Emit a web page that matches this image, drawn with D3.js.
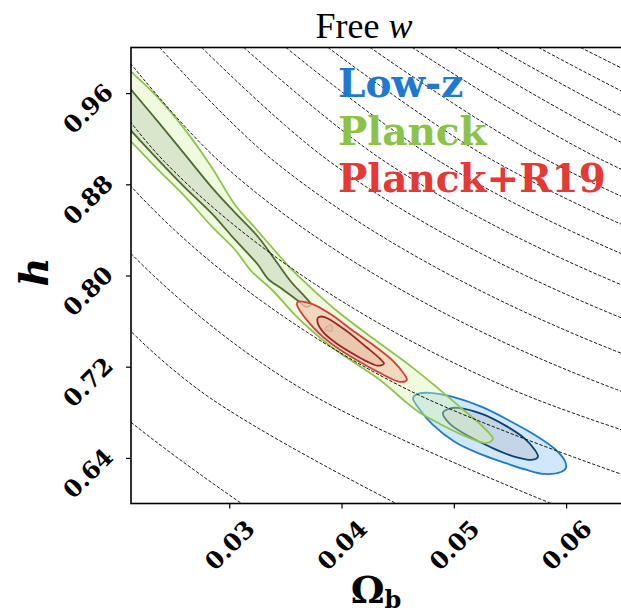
<!DOCTYPE html>
<html>
<head>
<meta charset="utf-8">
<script src="https://cdn.jsdelivr.net/npm/d3@7"></script>
<style>
  body { margin: 0; background: #fff; }
  .tick-label { font-family: 'DejaVu Serif', serif; font-weight: bold; font-size: 24px; }
</style>
</head>
<body>
<div id="chart"></div>
<script>
// ---- data ----
const xTicks = [0.03, 0.04, 0.05, 0.06];
const yTicks = [0.64, 0.72, 0.80, 0.88, 0.96];
const seriesNames = ['Low-z', 'Planck', 'Planck+R19'];

// dashed iso-curves: Omega_b read at these h levels
const isoH = [1.0, 0.9, 0.8, 0.7, 0.6];
const isoOmegaB = [
    [0.0013, 0.0046, 0.0100, 0.0179, 0.0311],
    [0.00505, 0.00951, 0.01662, 0.02724, 0.04488],
    [0.0088, 0.01441, 0.02325, 0.03655, 0.05868],
    [0.01255, 0.01932, 0.02987, 0.04586, 0.07247],
    [0.0163, 0.02422, 0.03649, 0.05518, 0.08627],
    [0.02005, 0.02913, 0.04312, 0.06449, 0.10006],
    [0.0238, 0.03403, 0.04974, 0.0738, 0.11386],
    [0.02755, 0.03894, 0.05637, 0.08311, 0.12766],
    [0.0313, 0.04385, 0.06299, 0.09242, 0.14145],
    [0.03505, 0.04875, 0.06962, 0.10173, 0.15525],
    [0.0388, 0.05366, 0.07624, 0.11104, 0.16905],
    [0.04255, 0.05856, 0.08287, 0.12036, 0.18284],
    [0.0463, 0.06347, 0.08949, 0.12967, 0.19664],
    [0.05005, 0.06838, 0.09611, 0.13898, 0.21043],
    [0.0538, 0.07328, 0.10274, 0.14829, 0.22423],
    [0.05755, 0.07819, 0.10936, 0.1576, 0.23803],
    [0.0613, 0.08309, 0.11599, 0.16691, 0.25183],
];

// contours as [Omega_b, h]
const planckOuter = [
    [0.02045, 0.9868], [0.02125, 0.9789], [0.02365, 0.9561], [0.02606, 0.9280], [0.02846, 0.8946],
    [0.03051, 0.8621], [0.03229, 0.8419], [0.03407, 0.8217], [0.03558, 0.8051], [0.03736, 0.7884],
    [0.03968, 0.7682], [0.04297, 0.7436], [0.04636, 0.7190], [0.04876, 0.6997], [0.05054, 0.6847],
    [0.05232, 0.6698], [0.05321, 0.6610], [0.05348, 0.6566], [0.05295, 0.6531], [0.05117, 0.6584],
    [0.04876, 0.6698], [0.04698, 0.6795], [0.04582, 0.6883], [0.04342, 0.7084], [0.04048, 0.7278],
    [0.03897, 0.7383], [0.03736, 0.7515], [0.03585, 0.7655], [0.03380, 0.7875], [0.03202, 0.8033],
    [0.03051, 0.8226], [0.02846, 0.8428], [0.02606, 0.8692], [0.02365, 0.8929], [0.02125, 0.9175],
    [0.02045, 0.9254],
];
const planckInner = [
    [0.02045, 0.9728], [0.02125, 0.9631], [0.02365, 0.9350], [0.02606, 0.9060], [0.02846, 0.8771],
    [0.03051, 0.8551], [0.03256, 0.8340], [0.03407, 0.8138], [0.03558, 0.7936], [0.03674, 0.7813],
    [0.03728, 0.7743], [0.03683, 0.7726], [0.03612, 0.7778], [0.03469, 0.7884], [0.03345, 0.7971],
    [0.03256, 0.8094], [0.03051, 0.8314], [0.02846, 0.8542], [0.02606, 0.8771], [0.02365, 0.9017],
    [0.02125, 0.9271], [0.02045, 0.9359],
];
const planckIsland = [[0.03852, 0.7533], [0.03906, 0.7568], [0.03915, 0.7515]];
const r19Outer = [
    [0.03612, 0.7769], [0.03736, 0.7751], [0.03923, 0.7647], [0.04102, 0.7515], [0.04280, 0.7392],
    [0.04458, 0.7251], [0.04556, 0.7137], [0.04582, 0.7084], [0.04520, 0.7067], [0.04342, 0.7146],
    [0.04164, 0.7242], [0.03986, 0.7348], [0.03834, 0.7462], [0.03719, 0.7576], [0.03630, 0.7690],
    [0.03603, 0.7743],
];
const r19Inner = [
    [0.03790, 0.7629], [0.03843, 0.7638], [0.04030, 0.7524], [0.04217, 0.7375], [0.04342, 0.7270],
    [0.04378, 0.7227], [0.04324, 0.7209], [0.04235, 0.7242], [0.04119, 0.7304], [0.03959, 0.7402],
    [0.03843, 0.7497], [0.03790, 0.7576],
];
const lowzOuter = [
    [0.04636, 0.6927], [0.04680, 0.6962], [0.04787, 0.6971], [0.04992, 0.6936], [0.05250, 0.6847],
    [0.05500, 0.6724], [0.05722, 0.6601], [0.05900, 0.6478], [0.05989, 0.6373], [0.05998, 0.6311],
    [0.05954, 0.6276], [0.05811, 0.6259], [0.05651, 0.6294], [0.05455, 0.6356], [0.05232, 0.6435],
    [0.05010, 0.6539], [0.04814, 0.6689], [0.04698, 0.6823],
];
const lowzInner = [
    [0.04903, 0.6795], [0.04956, 0.6831], [0.05037, 0.6839], [0.05250, 0.6786], [0.05464, 0.6681],
    [0.05624, 0.6576], [0.05722, 0.6470], [0.05749, 0.6410], [0.05704, 0.6384], [0.05544, 0.6410],
    [0.05339, 0.6489], [0.05126, 0.6594], [0.04965, 0.6698],
];

// ---- layout ----
const width = 621;
const height = 614;
const plot = { left: 131, right: 624.5, top: 47.5, bottom: 503.5 };

const svg = d3.select('#chart').append('svg').attr('width', width).attr('height', height);

const x = d3.scaleLinear().domain([0.02125, 0.0652]).range([plot.left, plot.right]);
const y = d3.scaleLinear().domain([0.6, 1.0]).range([plot.bottom, plot.top]);

svg.append('defs').append('clipPath').attr('id', 'clip')
    .append('rect')
    .attr('x', plot.left).attr('y', plot.top)
    .attr('width', plot.right - plot.left).attr('height', plot.bottom - plot.top);

const body = svg.append('g').attr('clip-path', 'url(#clip)');

const closed = d3.line().x((d) => x(d[0])).y((d) => y(d[1])).curve(d3.curveCatmullRomClosed);

function contour(pts, fill, opacity, stroke) {
    body.append('path')
        .attr('d', closed(pts))
        .attr('fill', fill)
        .attr('fill-opacity', opacity)
        .attr('stroke', stroke)
        .attr('stroke-width', 1.8)
        .attr('stroke-linejoin', 'round');
}

contour(lowzOuter, '#cfe8fb', 1, '#1f7bc6');
contour(lowzInner, '#c4d5e8', 1, '#123f6e');
contour(planckOuter, '#d9f2ad', 0.4, '#8fc350');
contour(planckInner, '#bccfb3', 0.45, '#4e6b30');
contour(planckIsland, '#bccfb3', 0.45, '#4e6b30');
contour(r19Outer, '#f3cdb3', 0.75, '#d43d3d');
contour(r19Inner, '#e2b5a0', 0.5, '#a02424');

const isoLine = d3.line().x((d) => x(d[0])).y((d) => y(d[1])).curve(d3.curveCatmullRom);
body.selectAll('.iso')
    .data(isoOmegaB)
    .enter()
    .append('path')
    .attr('class', 'iso')
    .attr('d', (row) => isoLine(row.map((v, i) => [v, isoH[i]])))
    .attr('fill', 'none')
    .attr('stroke', '#000')
    .attr('stroke-width', 0.9)
    .attr('stroke-dasharray', '3.4,1.7');

// ---- axes ----
const xAxis = d3.axisBottom(x).tickValues(xTicks).tickSize(5).tickFormat(d3.format('.2f'));
const gx = svg.append('g').attr('transform', `translate(0, ${plot.bottom})`).call(xAxis);
gx.select('.domain').remove();
gx.selectAll('line').attr('stroke-width', 1.2);
gx.selectAll('text')
    .attr('class', 'tick-label')
    .attr('fill', '#000')
    .attr('y', null).attr('dy', null)
    .attr('dominant-baseline', 'central')
    .attr('text-anchor', 'middle')
    .attr('transform', `translate(0, ${545 - plot.bottom}) rotate(-45)`);

const yAxis = d3.axisLeft(y).tickValues(yTicks).tickSize(5).tickFormat(d3.format('.2f'));
const gy = svg.append('g').attr('transform', `translate(${plot.left}, 0)`).call(yAxis);
gy.select('.domain').remove();
gy.selectAll('line').attr('stroke-width', 1.2);
gy.selectAll('text')
    .attr('class', 'tick-label')
    .attr('fill', '#000')
    .attr('x', null).attr('dy', null)
    .attr('dominant-baseline', 'central')
    .attr('text-anchor', 'middle')
    .attr('transform', `translate(${88 - plot.left}, 15) rotate(-45)`);

// frame
svg.append('rect')
    .attr('x', plot.left).attr('y', plot.top)
    .attr('width', plot.right - plot.left).attr('height', plot.bottom - plot.top)
    .attr('fill', 'none').attr('stroke', '#000').attr('stroke-width', 1.6);

// legend text
const legendColors = ['#1f78d1', '#8bc34a', '#e53935'];
svg.selectAll('.legend')
    .data(seriesNames)
    .enter()
    .append('text')
    .attr('class', 'legend')
    .attr('x', 338)
    .attr('y', (d, i) => 97 + i * 47.5)
    .attr('fill', (d, i) => legendColors[i])
    .style('font-family', "'DejaVu Serif', serif")
    .style('font-weight', 'bold')
    .style('font-size', '39px')
    .text((d) => d);

// title
const title = svg.append('text')
    .attr('x', 364).attr('y', 38)
    .attr('text-anchor', 'middle')
    .style('font-family', "'Liberation Serif', serif")
    .style('font-size', '36px');
title.append('tspan').text('Free ');
title.append('tspan').style('font-style', 'italic').text('w');

// axis titles
svg.append('text')
    .attr('transform', 'translate(48, 272) rotate(-90)')
    .attr('text-anchor', 'middle')
    .style('font-family', "'DejaVu Serif', serif")
    .style('font-weight', 'bold')
    .style('font-style', 'italic')
    .style('font-size', '40px')
    .text('h');

const xl = svg.append('text')
    .attr('x', 376).attr('y', 603)
    .attr('text-anchor', 'middle')
    .style('font-family', "'DejaVu Serif', serif")
    .style('font-weight', 'bold')
    .style('font-size', '38px');
xl.append('tspan').text('Ω');
xl.append('tspan').attr('dy', 5).style('font-size', '24px').text('b');
</script>
</body>
</html>
